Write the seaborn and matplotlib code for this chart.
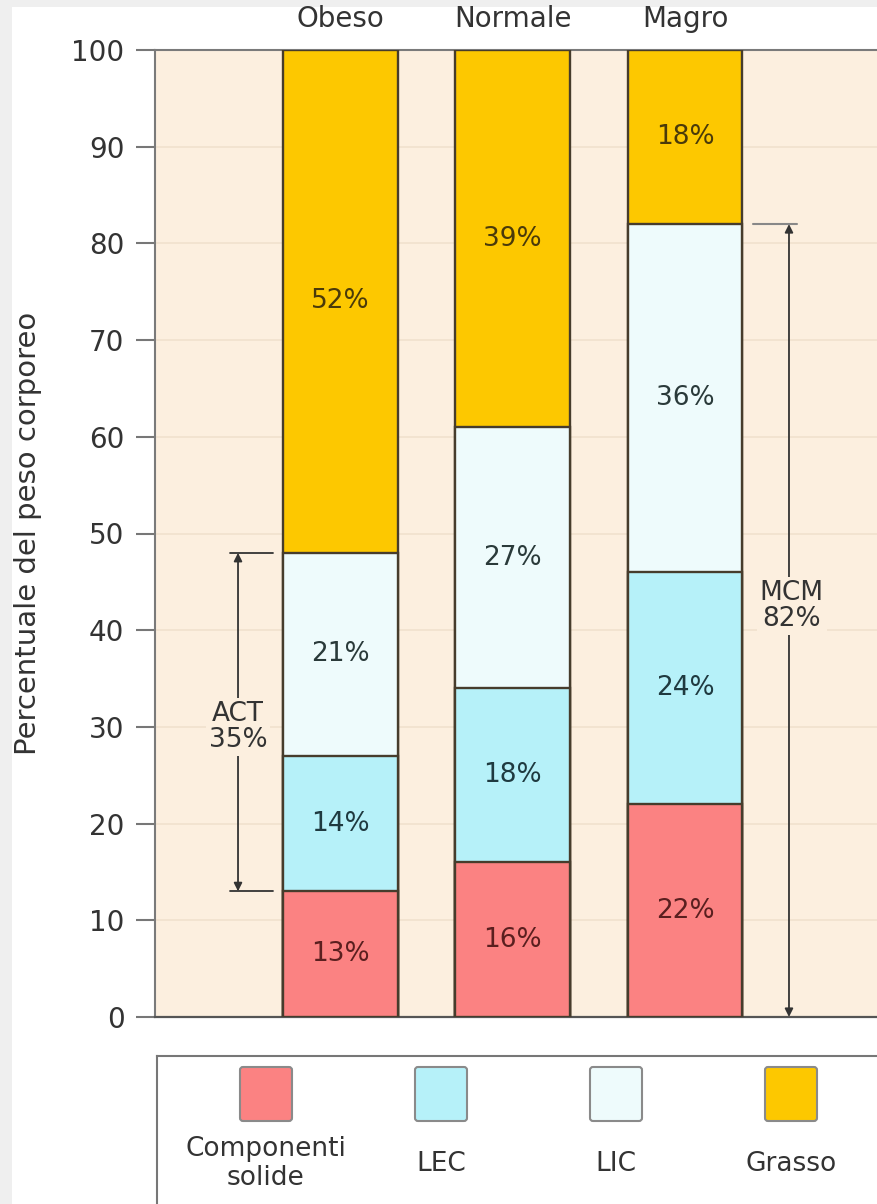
import numpy as np
import pandas as pd
import matplotlib
matplotlib.use("Agg")
import matplotlib.pyplot as plt
from matplotlib.patches import Rectangle, FancyBboxPatch
import seaborn as sns

# Data
groups = ["Obeso", "Normale", "Magro"]
solidi = [13, 16, 22]
lec = [14, 18, 24]
lic = [21, 27, 36]
grasso = [52, 39, 18]

layer_names = ["Componenti\nsolide", "LEC", "LIC", "Grasso"]
layer_colors = ["#fb8282", "#b6f1f9", "#eefbfc", "#fdc800"]
text_colors = ["#5a1f1f", "#1f3a40", "#2a3a3a", "#4a3a0a"]

layers = [solidi, lec, lic, grasso]
cum = np.cumsum(np.array(layers), axis=0)

sns.set_style("white")
plt.rcParams['font.family'] = ['DejaVu Sans']

W, H = 877, 1204
fig = plt.figure(figsize=(W / 100, H / 100), dpi=100)
fig.patch.set_facecolor("#efefef")
fig.patches.append(Rectangle((12 / W, 0), 1, 1 - 7 / H, transform=fig.transFigure,
                             facecolor="white", edgecolor="none", zorder=-5))

ax = fig.add_axes([155 / W, 1 - 1017 / H, 1 - 155 / W, (1017 - 50) / H])
bg = "#fcefdf"
ax.set_facecolor(bg)

# stacked bars: draw cumulative totals from the top layer down
edge = "#463c2c"
for k in range(len(layers) - 1, -1, -1):
    df = pd.DataFrame({"gruppo": groups, "valore": cum[k]})
    sns.barplot(data=df, x="gruppo", y="valore", order=groups, color=layer_colors[k],
                saturation=1, width=0.667, edgecolor=edge, linewidth=1.7,
                errorbar=None, ax=ax, zorder=3)

# percentage labels
for k in range(len(layers)):
    for i in range(len(groups)):
        bottom = cum[k][i] - layers[k][i]
        ax.text(i, bottom + layers[k][i] / 2, f"{layers[k][i]}%", ha="center", va="center",
                fontsize=19, color=text_colors[k], zorder=5)

ax.set_xlim(-1.077, 3.115)
ax.set_ylim(0, 100)
ax.set_yticks(range(0, 101, 10))
ax.yaxis.grid(True, color="#f2e2cf", lw=1.3, zorder=0)
ax.set_axisbelow(True)

ax.xaxis.tick_top()
ax.tick_params(axis="x", length=0, pad=12, labelsize=20, colors="#333333")
ax.tick_params(axis="y", length=14, width=1.5, color="#777777", pad=8, labelsize=20,
               labelcolor="#333333", left=True)
ax.set_xlabel("")
ax.set_ylabel("Percentuale del peso corporeo", fontsize=21, color="#333333")
ax.yaxis.set_label_coords(-0.157, 0.5)

for s in ["left", "top"]:
    ax.spines[s].set_color("#7a7a7a")
    ax.spines[s].set_linewidth(1.5)
ax.spines["bottom"].set_color("#555555")
ax.spines["bottom"].set_linewidth(1.6)
ax.spines["right"].set_visible(False)

# ACT annotation (LEC + LIC of Obeso)
act_lo = cum[0][0]
act_hi = cum[2][0]
act = lec[0] + lic[0]
ann = dict(color="#333333", lw=1.3)
ax.annotate("", xy=(-0.595, act_lo), xytext=(-0.595, act_hi),
            arrowprops=dict(arrowstyle="<|-|>", mutation_scale=12, shrinkA=0, shrinkB=0, **ann), zorder=4)
ax.plot([-0.642, -0.392], [act_lo, act_lo], zorder=4, **ann)
ax.plot([-0.642, -0.392], [act_hi, act_hi], zorder=4, **ann)
ax.text(-0.595, 30, f"ACT\n{act}%", ha="center", va="center", fontsize=19, color="#333333",
        linespacing=1.0, zorder=5,
        bbox=dict(facecolor=bg, edgecolor="none", pad=2))

# MCM annotation (Magro without fat)
mcm = 100 - grasso[2]
ax.annotate("", xy=(2.604, 0), xytext=(2.604, mcm),
            arrowprops=dict(arrowstyle="<|-|>", mutation_scale=12, shrinkA=0, shrinkB=0, **ann), zorder=4)
ax.plot([2.395, 2.65], [mcm, mcm], color="#888888", lw=1.5, zorder=4)
ax.text(2.62, 42.5, f"MCM\n{mcm}%", ha="center", va="center", fontsize=19, color="#333333",
        linespacing=1.0, zorder=5,
        bbox=dict(facecolor=bg, edgecolor="none", pad=2))

# legend box, labels under the swatches
lx0, ly_top = 157, 1056
lax = fig.add_axes([lx0 / W, -0.05, 1 - lx0 / W + 0.05, (H - ly_top) / H + 0.05])
lax.set_xlim(lx0, W + 0.05 * W)
lax.set_ylim(H + 0.05 * H, ly_top)
lax.set_facecolor("white")
lax.set_xticks([])
lax.set_yticks([])
for s in lax.spines.values():
    s.set_color("#777777")
    s.set_linewidth(1.5)

for j, (name, col) in enumerate(zip(layer_names, layer_colors)):
    cx = 266 + j * 175
    lax.add_patch(FancyBboxPatch((cx - 26, 1067), 52, 54,
                                 boxstyle="round,pad=0,rounding_size=3",
                                 facecolor=col, edgecolor="#8a8a8a", lw=1.5))
    lax.text(cx, 1164, name, ha="center", va="center", fontsize=19, color="#333333",
             linespacing=1.15)

fig.savefig("out.png", dpi=100, facecolor=fig.get_facecolor())
